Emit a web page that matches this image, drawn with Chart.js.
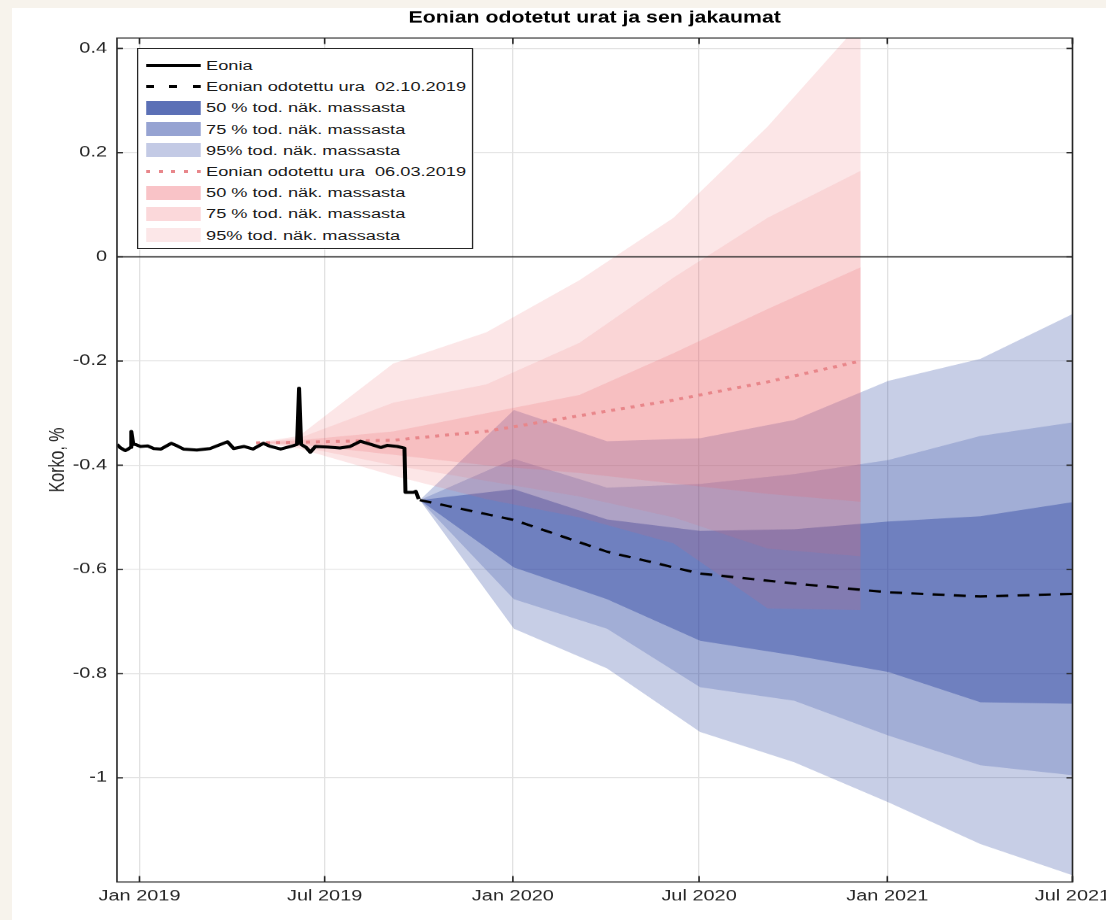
<!DOCTYPE html>
<html lang="fi">
<head>
  <meta charset="UTF-8" />
  <title>Eonian odotetut urat ja sen jakaumat</title>
  <script src="https://cdn.jsdelivr.net/npm/chart.js"></script>
  <style>
    body { margin: 0; background: #f7f3ec; }
    /* the reference figure is stretched horizontally, so the whole figure is drawn narrow and scaled */
    #fig { position: absolute; left: 0; top: 0; width: 832px; height: 920px; transform: scaleX(1.3293); transform-origin: 0 0; }
    #paper { position: absolute; left: 9px; top: 8px; right: 0; bottom: 0; background: #fff; }
    #chart { position: absolute; left: 0; top: 0; width: 832px; height: 920px; }
    #legend { position: absolute; left: 103px; top: 48px; width: 251px; padding: 6px 0 2px 0; background: #fff;
              border: 1px solid #262626; font: 13.7px 'Liberation Sans', Arial, sans-serif; color: #1a1a1a; }
    .row { height: 21.2px; display: flex; align-items: center; white-space: pre; }
    .sw { width: 41px; margin: 0 4px 0 6px; flex: none; }
    .solid { height: 2.8px; background: #000; }
    .dash { height: 2.6px; background: repeating-linear-gradient(90deg, #000 0 6px, transparent 6px 17.5px); }
    .dot { height: 3px; background: repeating-linear-gradient(90deg, #e8868a 0 3px, transparent 3px 9.5px); }
    .patch { height: 14px; }
  </style>
</head>
<body>
  <div id="fig">
    <div id="paper"></div>
    <canvas id="chart" width="832" height="920"></canvas>
    <div id="legend">
      <div class="row"><div class="sw solid"></div>Eonia</div>
      <div class="row"><div class="sw dash"></div>Eonian odotettu ura  02.10.2019</div>
      <div class="row"><div class="sw patch" style="background:#5b70b6"></div>50 % tod. näk. massasta</div>
      <div class="row"><div class="sw patch" style="background:#96a3d2"></div>75 % tod. näk. massasta</div>
      <div class="row"><div class="sw patch" style="background:#c3cae5"></div>95% tod. näk. massasta</div>
      <div class="row"><div class="sw dot"></div>Eonian odotettu ura  06.03.2019</div>
      <div class="row"><div class="sw patch" style="background:#f9c3c7"></div>50 % tod. näk. massasta</div>
      <div class="row"><div class="sw patch" style="background:#fbd8da"></div>75 % tod. näk. massasta</div>
      <div class="row"><div class="sw patch" style="background:#fce7e8"></div>95% tod. näk. massasta</div>
    </div>
  </div>

  <script>
    // axis ticks
    const xTickDates = ['2019-01-01', '2019-07-01', '2020-01-01', '2020-07-01', '2021-01-01', '2021-07-01'];
    const xTickLabels = ['Jan 2019', 'Jul 2019', 'Jan 2020', 'Jul 2020', 'Jan 2021', 'Jul 2021'];
    const yTickValues = [-1, -0.8, -0.6, -0.4, -0.2, 0, 0.2, 0.4];

    // Eonia, observed
    const eoniaDates = ['2018-12-10', '2018-12-13', '2018-12-18', '2018-12-21', '2018-12-23', '2018-12-24', '2018-12-26',
      '2018-12-28', '2019-01-02', '2019-01-09', '2019-01-15', '2019-01-22', '2019-02-01', '2019-02-07', '2019-02-13',
      '2019-02-26', '2019-03-11', '2019-03-28', '2019-04-03', '2019-04-13', '2019-04-22', '2019-05-02', '2019-05-09',
      '2019-05-19', '2019-05-29', '2019-06-04', '2019-06-06', '2019-06-08', '2019-06-13', '2019-06-17', '2019-06-22',
      '2019-07-04', '2019-07-16', '2019-07-26', '2019-08-05', '2019-08-15', '2019-08-25', '2019-08-31', '2019-09-10',
      '2019-09-17', '2019-09-18', '2019-09-26', '2019-09-28', '2019-09-30', '2019-10-01'];
    const eoniaValues = [-0.360, -0.366, -0.372, -0.369, -0.366, -0.335, -0.360,
      -0.360, -0.364, -0.363, -0.368, -0.369, -0.358, -0.363, -0.369,
      -0.371, -0.368, -0.355, -0.368, -0.364, -0.369, -0.358, -0.364,
      -0.369, -0.364, -0.360, -0.252, -0.360, -0.366, -0.375, -0.364,
      -0.365, -0.367, -0.364, -0.354, -0.360, -0.366, -0.362, -0.364,
      -0.367, -0.452, -0.452, -0.450, -0.460, -0.465];

    // expected path 02.10.2019 and its distribution
    const blueDates = ['2019-10-02', '2020-01-02', '2020-04-02', '2020-07-02', '2020-10-02', '2021-01-02', '2021-04-02', '2021-07-01'];
    const blueMedian = [-0.467, -0.505, -0.566, -0.608, -0.627, -0.644, -0.652, -0.647];
    const blue50Up = [-0.467, -0.446, -0.504, -0.526, -0.523, -0.508, -0.498, -0.471];
    const blue50Lo = [-0.467, -0.596, -0.657, -0.737, -0.765, -0.797, -0.855, -0.858];
    const blue75Up = [-0.467, -0.388, -0.443, -0.436, -0.417, -0.390, -0.344, -0.318];
    const blue75Lo = [-0.467, -0.657, -0.714, -0.826, -0.852, -0.919, -0.976, -0.995];
    const blue95Up = [-0.467, -0.294, -0.354, -0.348, -0.313, -0.238, -0.196, -0.110];
    const blue95Lo = [-0.467, -0.714, -0.790, -0.912, -0.970, -1.047, -1.127, -1.187];

    // expected path 06.03.2019 and its distribution
    const pinkDates = ['2019-04-25', '2019-06-06', '2019-09-06', '2019-12-06', '2020-03-06', '2020-06-06', '2020-09-06', '2020-12-06'];
    const pinkMedian = [-0.357, -0.356, -0.352, -0.335, -0.305, -0.275, -0.240, -0.200];
    const pink50Up = [-0.357, -0.352, -0.335, -0.300, -0.265, -0.185, -0.100, -0.020];
    const pink50Lo = [-0.357, -0.360, -0.380, -0.400, -0.415, -0.435, -0.455, -0.470];
    const pink75Up = [-0.357, -0.348, -0.280, -0.245, -0.165, -0.040, 0.075, 0.165];
    const pink75Lo = [-0.357, -0.364, -0.400, -0.430, -0.460, -0.500, -0.560, -0.575];
    const pink95Up = [-0.357, -0.344, -0.205, -0.145, -0.045, 0.075, 0.250, 0.450];
    const pink95Lo = [-0.357, -0.368, -0.420, -0.465, -0.500, -0.550, -0.675, -0.678];

    const t = s => Date.parse(s + 'T00:00:00Z');
    const pts = (dates, vals) => dates.map((d, i) => ({ x: t(d), y: vals[i] }));

    const BLUE = a => `rgba(40,65,160,${a})`;
    const PINK = a => `rgba(235,95,105,${a})`;
    const base = { pointRadius: 0, pointHoverRadius: 0, tension: 0 };
    const edge = (data, order) => ({ ...base, data, borderWidth: 0, borderColor: 'rgba(0,0,0,0)', fill: false, order });
    const face = (data, target, color, order) => ({ ...base, data, borderWidth: 0, borderColor: 'rgba(0,0,0,0)',
      backgroundColor: color, fill: target, order });

    const datasets = [
      { ...base, label: 'Eonia', data: pts(eoniaDates, eoniaValues), borderColor: '#000', borderWidth: 3,
        borderJoinStyle: 'round', fill: false, order: 1 },
      { ...base, label: 'Eonian odotettu ura 02.10.2019', data: pts(blueDates, blueMedian), borderColor: '#000',
        borderWidth: 2.4, borderDash: [9, 7], fill: false, order: 2 },
      { ...base, label: 'Eonian odotettu ura 06.03.2019', data: pts(pinkDates, pinkMedian), borderColor: '#e8868a',
        borderWidth: 3, borderDash: [3, 4.5], fill: false, order: 3 },
      edge(pts(blueDates, blue95Lo), 40),
      face(pts(blueDates, blue95Up), 3, BLUE(0.26), 40),
      edge(pts(blueDates, blue75Lo), 39),
      face(pts(blueDates, blue75Up), 5, BLUE(0.23), 39),
      edge(pts(blueDates, blue50Lo), 38),
      face(pts(blueDates, blue50Up), 7, BLUE(0.42), 38),
      edge(pts(pinkDates, pink95Lo), 30),
      face(pts(pinkDates, pink95Up), 9, PINK(0.156), 30),
      edge(pts(pinkDates, pink75Lo), 29),
      face(pts(pinkDates, pink75Up), 11, PINK(0.135), 29),
      edge(pts(pinkDates, pink50Lo), 28),
      face(pts(pinkDates, pink50Up), 13, PINK(0.19), 28)
    ];

    // zero line, axes box and inward tick marks
    const framePlugin = {
      id: 'frame',
      afterDatasetsDraw(chart) {
        const { ctx, chartArea: a, scales: { x, y } } = chart;
        ctx.save();
        ctx.strokeStyle = '#262626';
        ctx.lineWidth = 1.3;
        const y0 = y.getPixelForValue(0);
        ctx.beginPath();
        ctx.moveTo(a.left, y0);
        ctx.lineTo(a.right, y0);
        ctx.stroke();
        ctx.lineWidth = 1.2;
        ctx.strokeRect(a.left, a.top, a.right - a.left, a.bottom - a.top);
        ctx.beginPath();
        x.ticks.forEach(tk => {
          const px = x.getPixelForValue(tk.value);
          ctx.moveTo(px, a.bottom); ctx.lineTo(px, a.bottom - 6);
          ctx.moveTo(px, a.top); ctx.lineTo(px, a.top + 6);
        });
        y.ticks.forEach(tk => {
          const py = y.getPixelForValue(tk.value);
          ctx.moveTo(a.left, py); ctx.lineTo(a.left + 4.5, py);
          ctx.moveTo(a.right, py); ctx.lineTo(a.right - 4.5, py);
        });
        ctx.stroke();
        ctx.restore();
      }
    };

    Chart.defaults.font.family = "'Liberation Sans', Arial, sans-serif";
    Chart.defaults.color = '#262626';

    new Chart(document.getElementById('chart'), {
      type: 'line',
      data: { datasets },
      options: {
        responsive: false,
        devicePixelRatio: 1.3293,
        animation: false,
        events: [],
        layout: { padding: { left: 0, right: 25.2, top: 8.4, bottom: 0 } },
        plugins: {
          legend: { display: false },
          tooltip: { enabled: false },
          title: {
            display: true,
            text: 'Eonian odotetut urat ja sen jakaumat',
            color: '#000',
            fullSize: false,
            font: { size: 16, weight: 'bold' },
            padding: { top: 0, bottom: 10.4 }
          }
        },
        scales: {
          x: {
            type: 'linear',
            min: t('2018-12-10'),
            max: t('2021-07-01'),
            afterBuildTicks: s => { s.ticks = xTickDates.map(d => ({ value: t(d) })); },
            afterFit: s => { s.height = 38; s.paddingLeft = 0; s.paddingRight = 0; },
            ticks: {
              callback: (v, i) => xTickLabels[i],
              autoSkip: false,
              maxRotation: 0,
              padding: 5,
              font: { size: 15 }
            },
            grid: { color: '#e2e2e2', drawTicks: false },
            border: { display: false }
          },
          y: {
            min: -1.2,
            max: 0.42,
            afterBuildTicks: s => { s.ticks = yTickValues.map(v => ({ value: v })); },
            afterFit: s => { s.width = 88; s.paddingTop = 0; s.paddingBottom = 0; },
            ticks: {
              callback: v => String(v),
              padding: 7.5,
              font: { size: 15 }
            },
            title: {
              display: true,
              text: 'Korko, %',
              font: { size: 16 },
              padding: { top: 34, bottom: 0 }
            },
            grid: { color: '#e2e2e2', drawTicks: false },
            border: { display: false }
          }
        }
      },
      plugins: [framePlugin]
    });
  </script>
</body>
</html>
